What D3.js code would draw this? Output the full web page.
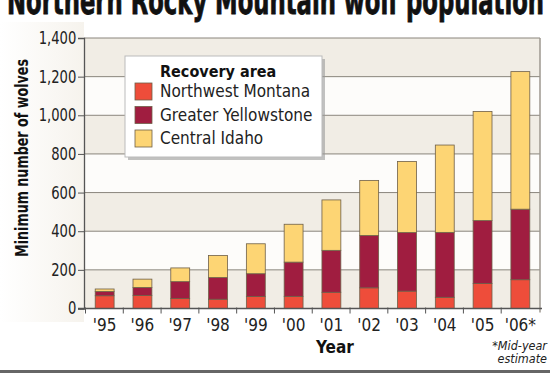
<!DOCTYPE html>
<html>
<head>
<meta charset="utf-8">
<script src="https://cdn.jsdelivr.net/npm/d3@7"></script>
<style>
  body { margin: 0; background: #fff; }
  svg { display: block; }
  .narrow { font-family: "Liberation Sans Narrow", "DejaVu Sans Condensed", "Roboto", sans-serif; }
</style>
</head>
<body>
<svg id="canvas" width="550" height="375"></svg>
<script>
// wolf counts
var years = ["'95", "'96", "'97", "'98", "'99", "'00", "'01", "'02", "'03", "'04", "'05", "'06*"];
var northwestMontana = [66, 68, 52, 48, 62, 63, 84, 107, 90, 58, 129, 149];
var greaterYellowstone = [22, 41, 87, 112, 118, 177, 217, 271, 303, 336, 326, 365];
var centralIdaho = [13, 43, 71, 114, 155, 196, 261, 285, 368, 452, 565, 712];
var seriesNames = ["Northwest Montana", "Greater Yellowstone", "Central Idaho"];
var seriesColors = ["#ee4d3a", "#a01d40", "#fdd574"];
var yTicks = [0, 200, 400, 600, 800, 1000, 1200, 1400];

var canvas_width = 550;
var plotLeft = 84, plotRight = 540, plotTop = 38, plotBottom = 308.5;

var svg = d3.select("#canvas");

var rows = years.map(function (y, i) {
	return { year: y, nwm: northwestMontana[i], gy: greaterYellowstone[i], ci: centralIdaho[i] };
});
var stack = d3.stack().keys(["nwm", "gy", "ci"])(rows);

var xScale = d3.scaleBand()
	.domain(years)
	.range([plotLeft + 1, plotRight])
	.paddingInner(0.5)
	.paddingOuter(0.27);

var yScale = d3.scaleLinear()
	.domain([0, 1400])
	.range([plotBottom, plotTop]);

// faint vignette left of the axis
var defs = svg.append("defs");
var grad = defs.append("linearGradient").attr("id", "vig").attr("x1", 0).attr("x2", 1);
grad.append("stop").attr("offset", "0%").attr("stop-color", "#ffffff");
grad.append("stop").attr("offset", "100%").attr("stop-color", "#f6f3ed");
svg.append("rect").attr("x", 0).attr("y", 22).attr("width", plotLeft).attr("height", 300)
	.attr("fill", "url(#vig)");

// alternating bands
svg.selectAll("rect.band").data(yTicks.slice(0, -1)).enter()
	.append("rect")
	.attr("class", "band")
	.attr("x", plotLeft)
	.attr("y", function (d) { return yScale(d + 200); })
	.attr("width", plotRight - plotLeft)
	.attr("height", function (d) { return yScale(d) - yScale(d + 200); })
	.attr("fill", function (d, i) { return i % 2 === 0 ? "#f1ede5" : "#fdfcfa"; });

// gridlines
svg.selectAll("line.grid").data(yTicks.slice(1)).enter()
	.append("line")
	.attr("class", "grid")
	.attr("x1", plotLeft).attr("x2", plotRight)
	.attr("y1", function (d) { return yScale(d); })
	.attr("y2", function (d) { return yScale(d); })
	.attr("stroke", "#8a857c")
	.attr("stroke-width", 1);

svg.append("line")
	.attr("x1", plotRight).attr("x2", plotRight)
	.attr("y1", plotTop).attr("y2", plotBottom + 4)
	.attr("stroke", "#9c978f").attr("stroke-width", 1.5);

// bars
svg.selectAll("g.series").data(stack).enter()
	.append("g")
	.attr("class", "series")
	.attr("fill", function (d, i) { return seriesColors[i]; })
	.selectAll("rect").data(function (d) { return d; }).enter()
	.append("rect")
	.attr("x", function (d) { return xScale(d.data.year); })
	.attr("y", function (d) { return yScale(d[1]); })
	.attr("width", xScale.bandwidth())
	.attr("height", function (d) { return yScale(d[0]) - yScale(d[1]); })
	.attr("stroke", "#6e5f48")
	.attr("stroke-width", 0.8);

// y axis
var yAxis = d3.axisLeft(yScale).tickValues(yTicks).tickFormat(d3.format(",")).tickSize(6).tickPadding(3);
var gy = svg.append("g")
	.attr("class", "y axis narrow")
	.attr("transform", "translate(" + plotLeft + ",0)")
	.call(yAxis);
gy.select(".domain").attr("stroke", "#555").attr("stroke-width", 1.3);
gy.selectAll(".tick line").attr("stroke", "#555");
gy.selectAll("text")
	.attr("font-size", 17).attr("fill", "#222").attr("font-family", null)
	.attr("transform", "scale(0.86,1)");

// x axis: labels under bars, ticks between bars
var xAxis = d3.axisBottom(xScale).tickSize(0).tickPadding(10);
var gx = svg.append("g")
	.attr("class", "x axis narrow")
	.attr("transform", "translate(0," + plotBottom + ")")
	.call(xAxis);
gx.select(".domain").attr("stroke", "#555").attr("stroke-width", 1.3).attr("d", "M" + (plotLeft - 6) + ",0H" + (plotRight + 2));
gx.selectAll("text").attr("font-size", 17).attr("fill", "#222").attr("font-family", null);

gx.selectAll("line.sep").data(years).enter()
	.append("line")
	.attr("class", "sep")
	.attr("x1", function (d) { return xScale(d) - xScale.step() * 0.27 + 0.5; })
	.attr("x2", function (d) { return xScale(d) - xScale.step() * 0.27 + 0.5; })
	.attr("y1", -1).attr("y2", 5)
	.attr("stroke", "#555");

// title, cut off at the top edge
svg.append("text")
	.attr("x", 7).attr("y", 14)
	.attr("font-family", "'DejaVu Sans Condensed', 'Liberation Sans Narrow', sans-serif")
	.attr("font-weight", "bold")
	.attr("font-size", 37)
	.attr("textLength", 537)
	.attr("lengthAdjust", "spacingAndGlyphs")
	.attr("fill", "#111")
	.attr("stroke", "#111")
	.attr("stroke-width", 0.8)
	.text("Northern Rocky Mountain wolf population");

// axis titles
svg.append("text")
	.attr("transform", "translate(28,158) rotate(-90)")
	.attr("text-anchor", "middle")
	.attr("font-family", "'DejaVu Sans Condensed', sans-serif")
	.attr("font-weight", "bold")
	.attr("font-size", 18)
	.attr("textLength", 198)
	.attr("lengthAdjust", "spacingAndGlyphs")
	.attr("fill", "#111")
	.text("Minimum number of wolves");

svg.append("text")
	.attr("x", 335).attr("y", 353)
	.attr("text-anchor", "middle")
	.attr("font-family", "'DejaVu Sans Condensed', sans-serif")
	.attr("font-weight", "bold")
	.attr("font-size", 17)
	.attr("fill", "#111")
	.text("Year");

var note = svg.append("text")
	.attr("class", "narrow")
	.attr("text-anchor", "end")
	.attr("font-style", "italic")
	.attr("font-size", 12.5)
	.attr("fill", "#222");
note.append("tspan").attr("x", 547).attr("y", 350).text("*Mid-year");
note.append("tspan").attr("x", 547).attr("y", 362.5).text("estimate");

// legend
var legend = svg.append("g").attr("transform", "translate(125,56)");
legend.append("rect").attr("x", 3).attr("y", 3).attr("width", 197).attr("height", 101).attr("fill", "#9a9a9a").attr("opacity", 0.6);
legend.append("rect").attr("width", 197).attr("height", 101).attr("fill", "#fff").attr("stroke", "#bbb");
legend.append("text")
	.attr("x", 35).attr("y", 21)
	.attr("font-family", "'DejaVu Sans Condensed', sans-serif")
	.attr("font-weight", "bold")
	.attr("font-size", 16)
	.attr("fill", "#111")
	.text("Recovery area");
var items = legend.selectAll("g.item").data(seriesNames).enter()
	.append("g")
	.attr("class", "item")
	.attr("transform", function (d, i) { return "translate(10," + (27 + i * 23.5) + ")"; });
items.append("rect")
	.attr("width", 17).attr("height", 17)
	.attr("fill", function (d, i) { return seriesColors[i]; })
	.attr("stroke", "#6e5f48").attr("stroke-width", 0.8);
items.append("text")
	.attr("class", "narrow")
	.attr("x", 25).attr("y", 14)
	.attr("font-size", 17)
	.attr("fill", "#222")
	.text(function (d) { return d; });

// bottom rule
svg.append("rect").attr("x", 0).attr("y", 370).attr("width", canvas_width).attr("height", 3).attr("fill", "#666");
</script>
</body>
</html>
